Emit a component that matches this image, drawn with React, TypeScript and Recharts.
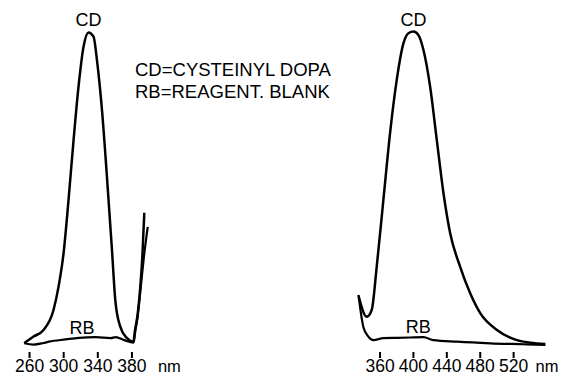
import React from "react"
import { LineChart, Line, XAxis, YAxis, ReferenceDot } from "recharts"

// wavelengths (nm) and relative absorbance
const leftTicks = [260, 300, 340, 380]
const rightTicks = [360, 400, 440, 480, 520]

const leftCdWave = [253.8, 264.7, 276.4, 288.1, 294, 299.9, 305.7, 311.6, 317.4, 323.3, 329.2, 335, 339, 344.9, 350.7, 356.6, 360.5, 366.3, 374.2, 381.7, 383.6, 386.3, 389.5, 392.2, 394.5]
const leftCdAbs = [2.1, 4.2, 6.25, 12.5, 19.8, 30.3, 46.9, 65.6, 82.3, 94.8, 99.2, 97.9, 90.6, 75, 54.2, 31.3, 15.6, 7.3, 3.7, 2.6, 6.25, 10.4, 18.75, 29.2, 42.9]

const leftRbWave = [253.8, 264.7, 276.4, 282.8, 302.3, 317.9, 337.5, 355.1, 361, 370.7, 381.9, 384, 386.6, 389.9, 394, 398.5]
const leftRbAbs = [2.1, 1.7, 2.2, 2.6, 3.3, 3.8, 4.0, 3.7, 4.0, 3.1, 2.3, 6, 10.2, 18.5, 29, 38.5]

const rightCdWave = [334, 344.1, 350, 356, 364, 372, 380, 388, 394, 400, 406, 412, 420, 428, 436, 444, 456, 468, 480, 500, 524, 540, 558]
const rightCdAbs = [17.2, 10.4, 12.5, 26, 46.9, 67.8, 84.4, 95.8, 99, 99.5, 98.4, 93.75, 82.3, 65.6, 49, 36.5, 26, 17.7, 11.5, 6.25, 3.1, 2.3, 1.9]

const rightRbWave = [334.5, 340, 346, 352, 364, 380, 396, 412, 424, 452, 492, 532, 558]
const rightRbAbs = [16.5, 7.2, 4.2, 3.1, 3.7, 3.8, 3.9, 4.0, 3.1, 2.6, 2.1, 1.8, 1.6]

const legendLines = ["CD=CYSTEINYL DOPA", "RB=REAGENT. BLANK"]

const toPoints = (wave: number[], abs: number[]) => wave.map((nm, i) => ({ nm, a: abs[i] }))

const FONT = '"Liberation Sans", Arial, Helvetica, sans-serif'

function NmTick(props: any) {
  const { x, y, payload, last, nmOffset } = props
  return (
    <g>
      <text x={x} y={y} dy="0.71em" textAnchor="middle" fontSize={17.5} fill="#000" fontFamily={FONT}>
        {payload.value}
      </text>
      {payload.value === last && (
        <text x={x + nmOffset} y={y} dy="0.71em" textAnchor="start" fontSize={16.5} fill="#000" fontFamily={FONT}>
          nm
        </text>
      )}
    </g>
  )
}

const labelStyle = { position: "center" as const, fontSize: 18, fill: "#000", fontFamily: FONT }

function Panel(props: {
  width: number
  left: number
  right: number
  domain: [number, number]
  ticks: number[]
  nmOffset: number
  cd: { nm: number; a: number }[]
  rb: { nm: number; a: number }[]
  cdLabel: [number, number]
  rbLabel: [number, number]
}) {
  const { width, left, right, domain, ticks, nmOffset, cd, rb, cdLabel, rbLabel } = props
  return (
    <LineChart width={width} height={376} margin={{ top: 30, right, bottom: 0, left }}>
      <XAxis
        type="number"
        dataKey="nm"
        domain={domain}
        ticks={ticks}
        allowDataOverflow
        axisLine={false}
        tickSize={6}
        tickMargin={2}
        height={24}
        tickLine={{ stroke: "#000", strokeWidth: 2 }}
        tick={<NmTick last={ticks[ticks.length - 1]} nmOffset={nmOffset} />}
        interval={0}
      />
      <YAxis type="number" domain={[-0.625, 100]} hide allowDataOverflow />
      <Line data={cd} dataKey="a" type="monotone" stroke="#000" strokeWidth={2.5} dot={false} isAnimationActive={false} />
      <Line data={rb} dataKey="a" type="monotone" stroke="#000" strokeWidth={2.2} dot={false} isAnimationActive={false} />
      <ReferenceDot x={cdLabel[0]} y={cdLabel[1]} r={1} fill="none" stroke="none" ifOverflow="visible" label={{ value: "CD", ...labelStyle }} />
      <ReferenceDot x={rbLabel[0]} y={rbLabel[1]} r={1} fill="none" stroke="none" ifOverflow="visible" label={{ value: "RB", ...labelStyle }} />
    </LineChart>
  )
}

export default function App() {
  return (
    <div style={{ position: "absolute", left: 0, top: 0, width: 565, height: 376, background: "#fff", fontFamily: FONT }}>
      <div style={{ position: "absolute", left: 0, top: 0 }}>
        <Panel
          width={190}
          left={21}
          right={41}
          domain={[250, 400]}
          ticks={leftTicks}
          nmOffset={26}
          cd={toPoints(leftCdWave, leftCdAbs)}
          rb={toPoints(leftRbWave, leftRbAbs)}
          cdLabel={[329.2, 103.1]}
          rbLabel={[321.4, 7.0]}
        />
      </div>
      <div style={{ position: "absolute", left: 340, top: 0 }}>
        <Panel
          width={225}
          left={15}
          right={18}
          domain={[330, 560]}
          ticks={rightTicks}
          nmOffset={22}
          cd={toPoints(rightCdWave, rightCdAbs)}
          rb={toPoints(rightRbWave, rightRbAbs)}
          cdLabel={[400, 103.1]}
          rbLabel={[405.9, 7.3]}
        />
      </div>
      <div style={{ position: "absolute", left: 135, top: 59, fontSize: 18.5, lineHeight: "21.7px", color: "#000", whiteSpace: "pre" }}>
        {legendLines.map((t) => (
          <div key={t}>{t}</div>
        ))}
      </div>
    </div>
  )
}
